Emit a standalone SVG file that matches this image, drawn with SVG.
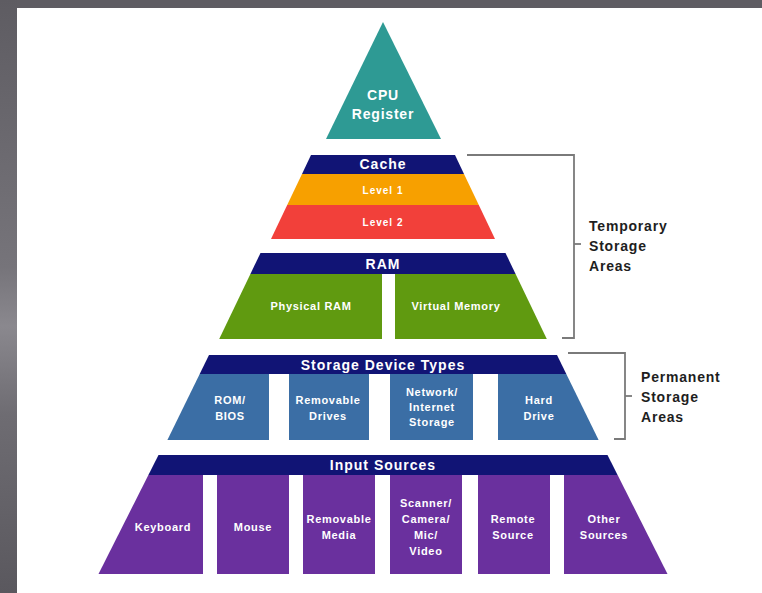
<svg xmlns="http://www.w3.org/2000/svg" width="762" height="593" viewBox="0 0 762 593">
<defs>
<linearGradient id="bgL" x1="0" y1="0" x2="0" y2="1">
<stop offset="0" stop-color="#5e5c62"/>
<stop offset="0.45" stop-color="#76747a"/>
<stop offset="0.55" stop-color="#8a888e"/>
<stop offset="0.7" stop-color="#6e6c72"/>
<stop offset="1" stop-color="#5a585e"/>
</linearGradient>
<style>
.t{font-family:"Liberation Sans",Arial,sans-serif;font-weight:bold;fill:#ffffff;text-anchor:middle}
.band{font-size:14px;letter-spacing:1px}
.sm{font-size:11px;letter-spacing:0.7px}
.lv{font-size:10px;letter-spacing:1px}
.cpu{font-size:14px;letter-spacing:0.8px}
.side{font-family:"Liberation Sans",Arial,sans-serif;font-weight:bold;fill:#1e1e1e;font-size:14px;letter-spacing:0.8px}
.navy{fill:#111475}
.teal{fill:#2e9a94}
.orange{fill:#f7a000}
.red{fill:#f2403a}
.green{fill:#609a10}
.blue{fill:#3b6ea5}
.purple{fill:#6a309e}
.br{fill:none;stroke:#7a7a7a;stroke-width:1.8}
</style>
</defs>
<rect x="0" y="0" width="762" height="593" fill="#5f5d63"/>
<rect x="0" y="0" width="17" height="593" fill="url(#bgL)"/>
<rect x="17" y="8" width="745" height="585" fill="#ffffff"/>

<g id="cpu">
<polygon class="teal" points="383,22 441,139 326,139"/>
<text class="t cpu" x="383" y="100">CPU</text>
<text class="t cpu" x="383" y="119">Register</text>
</g>

<g id="cache">
<polygon class="navy" points="311,155 455,155 464,174 302,174"/>
<text class="t band" x="383" y="169">Cache</text>
</g>
<g id="level1">
<polygon class="orange" points="302,174 464,174 478.8,205 287.2,205"/>
<text class="t lv" x="383" y="194">Level 1</text>
</g>
<g id="level2">
<polygon class="red" points="287.2,205 478.8,205 495,239 271,239"/>
<text class="t lv" x="383" y="226">Level 2</text>
</g>

<g id="ram">
<polygon class="navy" points="260.5,253 505.5,253 515.6,274 250.4,274"/>
<text class="t band" x="383" y="269">RAM</text>
</g>
<g id="physical-ram">
<polygon class="green" points="250.4,274 382,274 382,339 219.2,339"/>
<text class="t sm" x="311" y="310">Physical RAM</text>
</g>
<g id="virtual-memory">
<polygon class="green" points="395,274 515.6,274 546.8,339 395,339"/>
<text class="t sm" x="456" y="310">Virtual Memory</text>
</g>

<g id="storage-device-types">
<polygon class="navy" points="209,355 557,355 566.3,374 199.7,374"/>
<text class="t band" x="383" y="369.5">Storage Device Types</text>
</g>
<g id="rom-bios">
<polygon class="blue" points="199.7,374 269,374 269,440 167.4,440"/>
<text class="t sm" x="230" y="404">ROM/</text>
<text class="t sm" x="230" y="420">BIOS</text>
</g>
<g id="removable-drives">
<rect class="blue" x="289" y="374" width="80" height="66"/>
<text class="t sm" x="328" y="404">Removable</text>
<text class="t sm" x="328" y="420">Drives</text>
</g>
<g id="network-storage">
<rect class="blue" x="390" y="374" width="83" height="66"/>
<text class="t sm" x="432" y="396">Network/</text>
<text class="t sm" x="432" y="411">Internet</text>
<text class="t sm" x="432" y="426">Storage</text>
</g>
<g id="hard-drive">
<polygon class="blue" points="498,374 566.3,374 598.6,440 498,440"/>
<text class="t sm" x="539" y="404">Hard</text>
<text class="t sm" x="539" y="420">Drive</text>
</g>

<g id="input-sources">
<polygon class="navy" points="158.5,455 607.5,455 617.6,475 148.4,475"/>
<text class="t band" x="383" y="470">Input Sources</text>
</g>
<g id="keyboard">
<polygon class="purple" points="148.4,475 203,475 203,574 98.5,574"/>
<text class="t sm" x="163" y="531">Keyboard</text>
</g>
<g id="mouse">
<rect class="purple" x="217" y="475" width="72" height="99"/>
<text class="t sm" x="253" y="531">Mouse</text>
</g>
<g id="removable-media">
<rect class="purple" x="303" y="475" width="72" height="99"/>
<text class="t sm" x="339" y="523">Removable</text>
<text class="t sm" x="339" y="539">Media</text>
</g>
<g id="scanner">
<rect class="purple" x="390" y="475" width="72" height="99"/>
<text class="t sm" x="426" y="507">Scanner/</text>
<text class="t sm" x="426" y="523">Camera/</text>
<text class="t sm" x="426" y="539">Mic/</text>
<text class="t sm" x="426" y="555">Video</text>
</g>
<g id="remote-source">
<rect class="purple" x="478" y="475" width="72" height="99"/>
<text class="t sm" x="513" y="523">Remote</text>
<text class="t sm" x="513" y="539">Source</text>
</g>
<g id="other-sources">
<polygon class="purple" points="564,475 617.6,475 667.5,574 564,574"/>
<text class="t sm" x="604" y="523">Other</text>
<text class="t sm" x="604" y="539">Sources</text>
</g>

<g id="connectors">
<polyline class="br" points="467,155 574,155 574,338 562,338"/>
<line class="br" x1="574" y1="244" x2="581" y2="244"/>
<polyline class="br" points="568,353 625,353 625,439 614,439"/>
<line class="br" x1="625" y1="396" x2="632" y2="396"/>
</g>

<g id="temporary-label">
<text class="side" x="589" y="231">Temporary</text>
<text class="side" x="589" y="251">Storage</text>
<text class="side" x="589" y="271">Areas</text>
</g>
<g id="permanent-label">
<text class="side" x="641" y="382">Permanent</text>
<text class="side" x="641" y="402">Storage</text>
<text class="side" x="641" y="422">Areas</text>
</g>
</svg>
